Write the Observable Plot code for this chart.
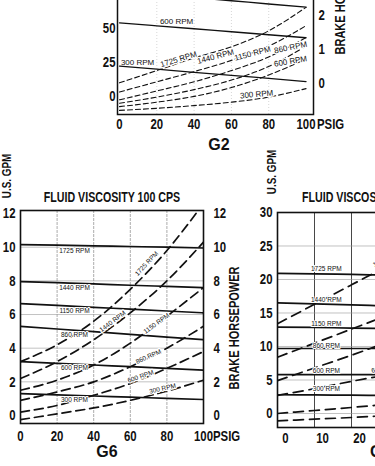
<!DOCTYPE html>
<html><head><meta charset="utf-8">
<script src="https://cdn.jsdelivr.net/npm/d3@7"></script>
<script src="https://cdn.jsdelivr.net/npm/@observablehq/plot@0.6"></script>
<style>
html,body{margin:0;padding:0;background:#fff;}
#wrap{position:relative;width:375px;height:466px;overflow:hidden;background:#fff;}
#wrap > svg{position:absolute;}
.lbl{position:absolute;white-space:nowrap;color:#111;line-height:1;}
</style></head><body><div id="wrap"></div>
<script>
const BOLDFONT = '"Liberation Sans",Arial,sans-serif';
const PLAIN = '"Liberation Sans",Arial,sans-serif';
const NARROW = 0.76;   // horizontal squeeze that turns the bold sans into a condensed face

// ---------- G2 ----------
const g2Psi = [0, 20, 40, 60, 80, 100];
const g2FlowRpm = ["860 RPM", "600 RPM", "300 RPM"];
const g2Flow = [
  [77.4, 75.1, 72.7, 70.4, 68.0, 65.7],
  [54.2, 52.0, 49.8, 47.6, 45.4, 43.2],
  [22.3, 20.1, 17.8, 15.6, 13.3, 11.0]
];
const g2PowerRpm = ["1725 RPM", "1440 RPM", "1150 RPM", "860 RPM", "600 RPM", "300 RPM"];
const g2Power = [
  [0.02, 0.38, 0.75, 1.08, 1.55, 2.24],
  [-0.25, 0.05, 0.35, 0.68, 1.10, 1.70],
  [-0.48, -0.22, 0.05, 0.38, 0.78, 1.35],
  [-0.58, -0.40, -0.18, 0.10, 0.50, 1.10],
  [-0.68, -0.55, -0.38, -0.12, 0.25, 0.72],
  [-0.79, -0.73, -0.65, -0.55, -0.40, -0.15]
];
const g2FlowLabelRpm = ["600 RPM", "300 RPM"];
const g2FlowLabelPsi = [30.6, 9.7];
const g2FlowLabelGpm = [55.1, 25.0];
const g2PowerLabelPsi = [31.6, 51.5, 71.3, 91.7, 91.7, 73.5];
const g2PowerLabelHp = [0.71, 0.79, 0.88, 1.06, 0.65, -0.32];
const g2PowerLabelAngle = [-17, -15, -15, -12, -10, -5];
const g2PsiTicks = [0, 20, 40, 60, 80, 100];
const g2GpmTicks = [0, 25, 50];
const g2HpTicks = [0, 1, 2];
const g2HpZeroGpm = 9.56, g2GpmPerHp = 25;   // right (BHP) axis against left (GPM) axis

// ---------- G6 ----------
const g6Psi = [0, 20, 40, 60, 80, 100];
const g6Rpm = ["1725 RPM", "1440 RPM", "1150 RPM", "860 RPM", "600 RPM", "300 RPM"];
const g6Flow = [
  [10.15, 10.12, 10.08, 10.04, 10.00, 9.95],
  [7.96, 7.89, 7.82, 7.74, 7.67, 7.60],
  [6.65, 6.54, 6.43, 6.32, 6.21, 6.10],
  [5.30, 5.14, 4.98, 4.82, 4.66, 4.50],
  [3.20, 3.10, 3.00, 2.90, 2.80, 2.70],
  [1.30, 1.23, 1.16, 1.09, 1.02, 0.95]
];
const g6Power = [
  [3.2, 4.2, 5.6, 7.5, 9.8, 12.6],
  [2.2, 3.2, 4.5, 6.1, 8.0, 10.3],
  [1.5, 2.1, 3.0, 4.3, 5.9, 7.6],
  [0.9, 1.4, 2.0, 2.9, 4.0, 5.3],
  [0.2, 0.6, 1.2, 1.9, 2.8, 3.8],
  [-0.25, 0.1, 0.45, 0.9, 1.45, 2.1]
];
const g6FlowLabelPsi = [29.5, 29.5, 29.5, 29.5, 29.5, 29.5];
const g6FlowLabelGpm = [9.8, 7.58, 6.21, 4.78, 2.82, 0.93];
const g6PowerLabelPsi = [68.9, 50.3, 74.3, 69.9, 65.6, 77.6];
const g6PowerLabelHp = [9.03, 5.59, 5.47, 3.5, 2.32, 1.6];
const g6PowerLabelAngle = [-47, -37, -36, -24, -19, -13];
const g6PsiTicks = [0, 20, 40, 60, 80, 100];
const g6Ticks = [0, 2, 4, 6, 8, 10, 12];

// ---------- G7 (cropped at right) ----------
const g7Psi = [0, 10, 20, 30];
const g7Rpm = ["1725 RPM", "1440 RPM", "1150 RPM", "860 RPM", "600 RPM", "300 RPM"];
const g7Flow = [
  [20.9, 20.85, 20.75, 20.65],
  [16.5, 16.35, 16.2, 16.05],
  [12.9, 12.85, 12.75, 12.7],
  [9.7, 9.7, 9.7, 9.7],
  [5.8, 5.8, 5.8, 5.8],
  [2.8, 2.77, 2.73, 2.7]
];
const g7Power = [
  [13.4, 16.3, 19.2, 22.1],
  [8.4, 10.5, 12.6, 14.7],
  [4.9, 6.8, 8.7, 10.7],
  [2.7, 3.7, 4.8, 5.8],
  [0.0, 0.45, 0.9, 1.4],
  [-1.1, -0.85, -0.6, -0.3]
];
const g7FlowLabelPsi = [13.2, 13.2, 13.2, 13.2, 13.2, 13.2];
const g7FlowLabelGpm = [21.6, 16.9, 13.4, 10.1, 6.4, 3.7];
const g7PowerLabelRpm = ["1725 RPM", "600 RPM"];
const g7PowerLabelPsi = [25.9, 25.4];
const g7PowerLabelHp = [22.1, 6.4];
const g7PowerLabelAngle = [-30, -10];
const g7PsiTicks = [0, 10, 20, 30, 40, 50];
const g7Ticks = [0, 5, 10, 15, 20, 25, 30];

// ---------- helpers ----------
function longRows(xs, names, series) {
  return names.flatMap((name, i) => xs.map((x, j) => ({x, v: series[i][j], name})));
}
function labelRows(names, xs, vs, angles) {
  return names.map((name, i) => ({name, x: xs[i], v: vs[i], angle: angles ? angles[i] : 0}));
}
const wrap = document.getElementById("wrap");
function narrowTicks(svg) {
  svg.querySelectorAll('g[aria-label$="tick label"] text').forEach(t => {
    const tr = t.getAttribute("transform");
    if (tr) {
      t.setAttribute("transform", tr + ` scale(${NARROW},1)`);
    } else {
      const x = t.getAttribute("x") || 0, y = t.getAttribute("y") || 0;
      t.removeAttribute("x"); t.removeAttribute("y");
      t.setAttribute("transform", `translate(${x},${y}) scale(${NARROW},1)`);
    }
  });
}
function place(svg, left, top) {
  narrowTicks(svg);
  svg.style.left = left + "px";
  svg.style.top = top + "px";
  wrap.appendChild(svg);
}
function addText(txt, x, y, o = {}) {
  const d = document.createElement("div");
  d.className = "lbl";
  d.textContent = txt;
  d.style.fontFamily = o.family || BOLDFONT;
  d.style.fontWeight = o.weight || "bold";
  d.style.fontSize = (o.size || 15) + "px";
  d.style.left = x + "px";
  d.style.top = y + "px";
  const sx = o.squeeze === false ? 1 : NARROW;
  if (o.anchor === "start") {
    d.style.transformOrigin = "0 50%";
    d.style.transform = `translate(0,-50%) scale(${sx},1)`;
  } else {
    d.style.transform = `translate(-50%,-50%)` + (o.rotate ? ` rotate(${o.rotate}deg)` : "") + ` scale(${sx},1)`;
  }
  wrap.appendChild(d);
}
const svgStyle = {background: "transparent", fontFamily: BOLDFONT, fontSize: "15px", fontWeight: "bold", color: "#111", maxWidth: "none", overflow: "visible"};
const smallText = {fontFamily: PLAIN, fontWeight: "normal", fill: "#111", lineAnchor: "middle", textAnchor: "middle"};

// ---------- draw G2 ----------
const hpToGpm = h => g2HpZeroGpm + g2GpmPerHp * h;
const g2 = Plot.plot({
  width: 375, height: 214,
  marginLeft: 117, marginRight: 62, marginTop: 20, marginBottom: 40,
  style: svgStyle,
  x: {domain: [-1.07, 104]},
  y: {domain: [-13.24, 100]},
  marks: [
    Plot.gridX(g2PsiTicks.slice(1, -1), {stroke: "#bbb", strokeOpacity: 1, strokeWidth: 0.6, strokeDasharray: "1,2"}),
    Plot.line(longRows(g2Psi, g2FlowRpm, g2Flow), {x: "x", y: "v", z: "name", stroke: "#111", strokeWidth: 1.3, curve: "monotone-x", clip: true}),
    Plot.line(longRows(g2Psi, g2PowerRpm, g2Power), {x: "x", y: d => hpToGpm(d.v), z: "name", stroke: "#111", strokeWidth: 1.1, strokeDasharray: "5,3", curve: "monotone-x", clip: true}),
    Plot.text(labelRows(g2FlowLabelRpm, g2FlowLabelPsi, g2FlowLabelGpm), {x: "x", y: "v", text: "name", fontSize: 8, ...smallText}),
    Plot.text(labelRows(g2PowerRpm, g2PowerLabelPsi, g2PowerLabelHp, g2PowerLabelAngle), {x: "x", y: d => hpToGpm(d.v), text: "name", rotate: "angle", fontSize: 8, stroke: "white", strokeWidth: 2.5, paintOrder: "stroke", ...smallText}),
    Plot.frame({stroke: "#111", strokeWidth: 1.5}),
    Plot.axisX(g2PsiTicks, {tickSize: 0, tickPadding: 4, label: null}),
    Plot.axisY(g2GpmTicks, {anchor: "left", tickSize: 0, tickPadding: 2, label: null}),
    Plot.axisY(g2HpTicks.map(hpToGpm), {anchor: "right", tickSize: 0, tickPadding: 5, label: null, tickFormat: d => String(Math.round((d - g2HpZeroGpm) / g2GpmPerHp))})
  ]
});
place(g2, 0, -60);

// ---------- draw G6 ----------
const g6 = Plot.plot({
  width: 240, height: 273,
  marginLeft: 20, marginRight: 37, marginTop: 30, marginBottom: 30,
  style: svgStyle,
  x: {domain: [0, 100]},
  y: {domain: [-0.475, 12.18]},
  marks: [
    Plot.gridX(g6PsiTicks.slice(1, -1), {stroke: "#888", strokeOpacity: 1, strokeWidth: 0.7, strokeDasharray: "3,1"}),
    Plot.gridY(g6Ticks.slice(1, -1), {stroke: "#999", strokeOpacity: 1, strokeWidth: 0.6}),
    Plot.line(longRows(g6Psi, g6Rpm, g6Flow), {x: "x", y: "v", z: "name", stroke: "#111", strokeWidth: 1.7, curve: "monotone-x", clip: true}),
    Plot.line(longRows(g6Psi, g6Rpm, g6Power), {x: "x", y: "v", z: "name", stroke: "#111", strokeWidth: 1.7, strokeDasharray: "9,5", curve: "monotone-x", clip: true}),
    Plot.text(labelRows(g6Rpm, g6FlowLabelPsi, g6FlowLabelGpm), {x: "x", y: "v", text: "name", fontSize: 6.5, stroke: "white", strokeWidth: 2, paintOrder: "stroke", ...smallText}),
    Plot.text(labelRows(g6Rpm, g6PowerLabelPsi, g6PowerLabelHp, g6PowerLabelAngle), {x: "x", y: "v", text: "name", rotate: "angle", fontSize: 6.5, stroke: "white", strokeWidth: 2.5, paintOrder: "stroke", ...smallText}),
    Plot.frame({stroke: "#111", strokeWidth: 1.6}),
    Plot.axisX(g6PsiTicks, {tickSize: 0, tickPadding: 7, label: null}),
    Plot.axisY(g6Ticks, {anchor: "left", tickSize: 0, tickPadding: 5, label: null}),
    Plot.axisY(g6Ticks, {anchor: "right", tickSize: 0, tickPadding: 10, label: null})
  ]
});
place(g6, 0, 180);

// ---------- draw G7 ----------
const g7 = Plot.plot({
  width: 260, height: 277,
  marginLeft: 37, marginRight: 38, marginTop: 32, marginBottom: 30,
  style: svgStyle,
  x: {domain: [0, 50]},
  y: {domain: [-2.09, 30]},
  marks: [
    Plot.gridX(g7PsiTicks.slice(1, -1), {stroke: "#333", strokeOpacity: 1, strokeWidth: 0.9}),
    Plot.gridY(g7Ticks.slice(0, -1), {stroke: "#999", strokeOpacity: 1, strokeWidth: 0.6}),
    Plot.line(longRows(g7Psi, g7Rpm, g7Flow), {x: "x", y: "v", z: "name", stroke: "#111", strokeWidth: 1.7, curve: "monotone-x", clip: true}),
    Plot.line(longRows(g7Psi, g7Rpm, g7Power), {x: "x", y: "v", z: "name", stroke: "#111", strokeWidth: 1.7, strokeDasharray: "10,6", curve: "monotone-x", clip: true}),
    Plot.text(labelRows(g7Rpm, g7FlowLabelPsi, g7FlowLabelGpm), {x: "x", y: "v", text: "name", fontSize: 6.5, stroke: "white", strokeWidth: 2, paintOrder: "stroke", ...smallText}),
    Plot.text(labelRows(g7PowerLabelRpm, g7PowerLabelPsi, g7PowerLabelHp, g7PowerLabelAngle), {x: "x", y: "v", text: "name", rotate: "angle", fontSize: 6.5, stroke: "white", strokeWidth: 2.5, paintOrder: "stroke", ...smallText, textAnchor: "start"}),
    Plot.frame({stroke: "#111", strokeWidth: 1.6}),
    Plot.axisX(g7PsiTicks, {tickSize: 0, tickPadding: 5, dx: 8, label: null}),
    Plot.axisY(g7Ticks, {anchor: "left", tickSize: 0, tickPadding: 5, label: null})
  ]
});
place(g7, 240, 180);

// ---------- titles and axis names ----------
addText("PSIG", 317, 123, {anchor: "start"});
addText("BRAKE HORSEPOWER", 340, 55 - 62, {size: 14.5, rotate: -90});
addText("G2", 219, 145, {family: PLAIN, size: 16, squeeze: false});

addText("U.S. GPM", 6, 176, {size: 13, rotate: -90});
addText("FLUID VISCOSITY 100 CPS", 111.5, 197, {size: 14});
addText("BRAKE HORSEPOWER", 234, 328, {size: 14.5, rotate: -90});
addText("PSIG", 213, 435, {anchor: "start"});
addText("G6", 107, 452, {family: PLAIN, size: 16, squeeze: false});

addText("U.S. GPM", 271, 172, {size: 13, rotate: -90});
addText("FLUID VISCOSITY 1000 CPS", 302, 197, {size: 14, anchor: "start"});
addText("G7", 370, 452, {family: PLAIN, size: 16, anchor: "start", squeeze: false});
</script></body></html>
